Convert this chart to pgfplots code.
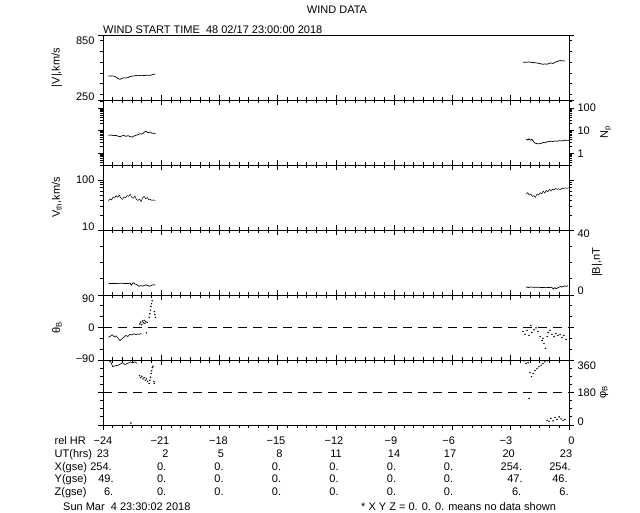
\documentclass[border=0pt]{standalone}
\usepackage{fontspec}
\setmainfont{Liberation Sans}
\usepackage{pgfplots}
\pgfplotsset{compat=1.18}

\newcommand{\f}{\fontsize{11}{13}\selectfont}
\newcommand{\cell}[3]{\node[font=\f, anchor=base, inner sep=0pt] at (#1pt,#2pt) {#3};}
% tick label moved up/down from its tick, as the end labels are in the reference
\newcommand{\lab}[2]{\raisebox{#1}[0pt][0pt]{#2}}

\pgfplotsset{
  panel/.style={
    scale only axis, width=466pt, height=65pt,
    anchor=south west,
    xmin=-24, xmax=0,
    xtick={-24,-21,...,0}, xticklabels={},
    minor x tick num=5,
    xtick pos=both,
    tick align=outside,
    major tick length=5pt, minor tick length=3pt,
    axis line style={line width=0.8pt},
    every tick/.append style={black, line width=0.8pt},
    tick label style={font=\f},
    /pgf/number format/assume math mode=true,
    ylabel style={font=\f, anchor=center},
  },
  data/.style={black, line width=0.7pt, line join=round},
  dots/.style={black, only marks, mark=*, mark size=0.5pt},
  zero/.style={black, line width=0.8pt, dash pattern=on 9pt off 6pt},
}

\begin{document}
\begin{tikzpicture}

% |V|
\begin{axis}[panel, at={(103pt,412pt)}, xtick pos=bottom,
  ymin=250, ymax=850, ytick={250,850}, yticklabels={\lab{-1pt}{250},\lab{-10pt}{850}},
  minor ytick={300,400,...,800},
  ylabel={|V|,km/s}, ylabel style={at={(axis description cs:-0.099,0.5)}}]
\addplot[data] coordinates {(-23.72,472)(-23.59,472)(-23.43,470)(-23.33,462)(-23.23,448)(-23.12,441)(-23.02,450)(-22.92,455)(-22.82,452)(-22.71,458)(-22.61,466)(-22.51,470)(-22.40,472)(-22.30,476)(-22.20,474)(-22.09,477)(-21.99,478)(-21.89,475)(-21.79,478)(-21.68,478)(-21.58,477)(-21.48,482)(-21.37,488)(-21.30,490)};
\addplot[data] coordinates {(-2.37,600)(-2.21,598)(-2.06,601)(-1.91,597)(-1.75,594)(-1.60,590)(-1.45,584)(-1.34,580)(-1.24,583)(-1.13,580)(-1.03,588)(-0.93,592)(-0.82,587)(-0.72,598)(-0.62,605)(-0.51,612)(-0.41,614)(-0.31,610)(-0.21,612)};
\end{axis}

% Np
\begin{axis}[panel, at={(103pt,347pt)},
  ymode=log, ymin=0.3, ymax=230, ytick={1,10,100}, yticklabels={1,10,100},
  minor ytick={0.4,0.5,0.6,0.7,0.8,0.9,2,3,4,5,6,7,8,9,20,30,40,50,60,70,80,90,200},
  yticklabel pos=right, ytick pos=both,
  ylabel={N\textsubscript{p}}, ylabel style={at={(axis description cs:1.079,0.5)}}]
\addplot[data] coordinates {(-23.72,6.3)(-23.59,6.4)(-23.43,6.0)(-23.33,6.2)(-23.23,5.7)(-23.12,5.4)(-23.02,5.9)(-22.92,6.1)(-22.82,5.6)(-22.71,6.0)(-22.61,5.5)(-22.51,5.2)(-22.40,5.8)(-22.30,6.3)(-22.20,6.6)(-22.09,7.4)(-21.99,7.0)(-21.89,8.4)(-21.79,9.6)(-21.68,8.0)(-21.58,8.8)(-21.48,7.6)(-21.37,7.8)(-21.30,7.3)};
\addplot[data] coordinates {(-2.21,4.3)(-2.13,3.8)(-2.06,4.4)(-1.98,3.7)(-1.91,4.2)(-1.83,3.3)(-1.75,2.8)(-1.60,2.6)(-1.45,2.7)(-1.34,3.0)(-1.24,2.9)(-1.13,3.2)(-1.03,3.3)(-0.93,3.4)(-0.82,3.3)(-0.72,3.5)(-0.62,3.4)(-0.51,3.6)(-0.41,3.5)(-0.31,3.6)(-0.21,3.8)(-0.10,3.7)(0,3.8)};
\end{axis}

% Vth
\begin{axis}[panel, at={(103pt,282pt)},
  ymode=log, ymin=10, ymax=200, ytick={10,100}, yticklabels={\lab{-1pt}{10},100},
  minor ytick={20,30,40,50,60,70,80,90,200},
  ylabel={V\textsubscript{th},km/s}, ylabel style={at={(axis description cs:-0.099,0.5)}}]
\addplot[data, line width=0.5pt] coordinates {(-23.72,38)(-23.64,42)(-23.56,40)(-23.48,46)(-23.40,44)(-23.32,49)(-23.24,45)(-23.16,50)(-23.08,43)(-23.00,41)(-22.92,46)(-22.84,44)(-22.76,49)(-22.68,47)(-22.60,52)(-22.52,45)(-22.44,43)(-22.36,48)(-22.28,41)(-22.20,39)(-22.12,42)(-22.04,37)(-21.96,44)(-21.88,47)(-21.80,42)(-21.72,45)(-21.64,40)(-21.56,41)(-21.48,39)(-21.40,40)(-21.30,39)};
\addplot[data, line width=0.5pt] coordinates {(-2.21,52)(-2.13,56)(-2.05,50)(-1.97,53)(-1.89,47)(-1.81,49)(-1.73,45)(-1.65,52)(-1.57,50)(-1.49,56)(-1.41,53)(-1.33,60)(-1.25,55)(-1.17,62)(-1.09,58)(-1.01,65)(-0.93,60)(-0.85,66)(-0.77,63)(-0.69,68)(-0.61,65)(-0.53,67)(-0.45,64)(-0.37,69)(-0.29,67)(-0.21,70)(-0.10,68)(-0.02,71)};
\end{axis}

% |B|
\begin{axis}[panel, at={(103pt,217pt)},
  ymin=0, ymax=40, ytick={0,40}, yticklabels={\lab{0pt}{0},\lab{-8pt}{40}}, minor ytick={10,20,30},
  yticklabel pos=right, ytick pos=both,
  ylabel={|B|,nT}, ylabel style={at={(axis description cs:1.060,0.5)}}]
\addplot[data] coordinates {(-23.72,7.0)(-23.50,7.1)(-23.30,7.0)(-23.10,7.3)(-22.90,7.1)(-22.70,7.0)(-22.60,7.4)(-22.55,6.0)(-22.45,7.6)(-22.35,6.8)(-22.25,6.3)(-22.15,5.4)(-22.05,5.7)(-21.95,5.5)(-21.80,6.2)(-21.70,5.8)(-21.60,5.4)(-21.50,6.0)(-21.40,6.3)(-21.30,6.1)};
\addplot[data] coordinates {(-2.21,5.0)(-2.10,4.6)(-2.00,4.9)(-1.80,4.7)(-1.60,4.8)(-1.40,4.6)(-1.20,4.7)(-1.00,4.6)(-0.90,4.8)(-0.80,3.6)(-0.75,4.5)(-0.65,3.9)(-0.55,4.6)(-0.45,5.2)(-0.35,4.9)(-0.25,5.6)(-0.15,5.3)(-0.05,5.8)};
\end{axis}

% theta B
\begin{axis}[panel, at={(103pt,152pt)},
  ymin=-90, ymax=90, ytick={-90,0,90}, yticklabels={\lab{-2pt}{−90},0,\lab{-8pt}{90}}, minor ytick={-60,-30,30,60},
  ylabel={θ\textsubscript{B}}, ylabel style={at={(axis description cs:-0.099,0.5)}}]
\addplot[zero] coordinates {(-24,0)(0,0)};
\addplot[data, line width=0.6pt] coordinates {(-23.72,-27)(-23.62,-24)(-23.52,-20)(-23.42,-26)(-23.32,-23)(-23.22,-30)(-23.12,-36)(-23.02,-31)(-22.92,-27)(-22.82,-22)(-22.72,-25)(-22.62,-19)(-22.52,-21)(-22.42,-17)(-22.32,-20)(-22.22,-18)(-22.12,-19)(-22.02,-16)};
\addplot[dots] coordinates {(-22.10,10)(-22.05,15)(-22.00,8)(-21.96,18)(-21.92,13)(-21.88,20)(-21.84,12)(-21.80,17)(-21.76,-15)(-21.72,14)(-21.62,28)(-21.59,38)(-21.56,48)(-21.53,58)(-21.50,66)(-21.47,74)(-21.36,44)(-21.33,36)(-21.30,28)};
\addplot[dots] coordinates {(-2.37,-11)(-2.27,-19)(-2.16,-8)(-2.06,-22)(-1.96,6)(-1.91,-14)(-1.80,-6)(-1.70,-1)(-1.60,-11)(-1.49,-25)(-1.39,-36)(-1.34,-30)(-1.29,-44)(-1.21,-58)(-1.13,-25)(-1.08,-14)(-0.98,-8)(-0.88,-19)(-0.77,-25)(-0.67,-17)(-0.57,-22)(-0.46,-19)(-0.36,-28)(-0.26,-22)(-0.15,-33)};
\end{axis}

% phi B
\begin{axis}[panel, at={(103pt,87pt)},
  ymin=0, ymax=360, ytick={0,180,360}, yticklabels={\lab{0pt}{0},180,\lab{-10pt}{360}},
  minor ytick={45,90,135,225,270,315},
  yticklabel pos=right, ytick pos=both,
  ylabel={φ\textsubscript{B}}, ylabel style={at={(axis description cs:1.075,0.5)}}]
\addplot[zero] coordinates {(-24,180)(0,180)};
\addplot[data, line width=0.6pt] coordinates {(-23.70,355)(-23.60,350)(-23.50,323)(-23.35,329)(-23.20,331)(-23.08,340)(-22.97,345)(-22.87,334)(-22.77,340)(-22.66,345)(-22.56,350)(-22.46,345)(-22.35,350)(-22.25,342)};
\addplot[dots] coordinates {(-22.56,11)(-22.12,273)(-22.06,262)(-22.00,270)(-21.94,255)(-21.88,262)(-21.82,248)(-21.76,255)(-21.70,242)(-21.62,230)(-21.58,248)(-21.55,265)(-21.52,285)(-21.49,300)(-21.46,318)(-21.43,326)(-21.38,240)(-21.36,230)};
\addplot[dots] coordinates {(-2.32,356)(-2.21,340)(-2.11,345)(-2.01,290)(-1.93,268)(-1.85,285)(-1.75,301)(-1.65,312)(-1.55,323)(-1.44,331)(-1.34,340)(-1.24,350)(-1.13,356)(-1.03,357)(-2.06,147)(-1.13,26)(-1.03,20)(-0.93,37)(-0.82,23)(-0.72,42)(-0.62,31)(-0.51,45)(-0.41,34)(-0.31,26)(-0.21,31)};
\end{axis}

% titles
\node[font=\f] at (337pt,502pt) {WIND DATA};
\node[font=\f, anchor=base west, inner sep=0pt] at (103pt,478pt) {WIND START TIME\ \ 48 02/17 23:00:00 2018};

% table under the panels
\node[font=\f, anchor=base west, inner sep=0pt] at (54.5pt,68pt) {rel HR};
\node[font=\f, anchor=base west, inner sep=0pt] at (54.5pt,55pt) {UT(hrs)};
\node[font=\f, anchor=base west, inner sep=0pt] at (54.5pt,42pt) {X(gse)};
\node[font=\f, anchor=base west, inner sep=0pt] at (54.5pt,29.5pt) {Y(gse)};
\node[font=\f, anchor=base west, inner sep=0pt] at (54.5pt,17pt) {Z(gse)};

\cell{103}{68}{−24}\cell{160}{68}{−21}\cell{218.5}{68}{−18}\cell{276}{68}{−15}\cell{334}{68}{−12}\cell{391}{68}{−9}\cell{448.6}{68}{−6}\cell{506}{68}{−3}\cell{571.5}{68}{0}
\cell{103}{55}{23}\cell{165.5}{55}{2}\cell{221}{55}{5}\cell{279.5}{55}{8}\cell{336}{55}{11}\cell{394}{55}{14}\cell{450}{55}{17}\cell{508.7}{55}{20}\cell{566}{55}{23}
\cell{101}{42}{254.}\cell{161.6}{42}{0.}\cell{219}{42}{0.}\cell{276.5}{42}{0.}\cell{334}{42}{0.}\cell{391.5}{42}{0.}\cell{448.5}{42}{0.}\cell{511.4}{42}{254.}\cell{560}{42}{254.}
\cell{106}{29.5}{49.}\cell{161.6}{29.5}{0.}\cell{219}{29.5}{0.}\cell{276.5}{29.5}{0.}\cell{334}{29.5}{0.}\cell{391.5}{29.5}{0.}\cell{448.5}{29.5}{0.}\cell{515}{29.5}{47.}\cell{560}{29.5}{46.}
\cell{108.7}{17}{6.}\cell{161.6}{17}{0.}\cell{219}{17}{0.}\cell{276.5}{17}{0.}\cell{334}{17}{0.}\cell{391.5}{17}{0.}\cell{448.5}{17}{0.}\cell{516.6}{17}{6.}\cell{564}{17}{6.}

\node[font=\f, anchor=base west, inner sep=0pt] at (63pt,1.5pt) {Sun Mar\ \ 4 23:30:02 2018};
\node[font=\f, anchor=base west, inner sep=0pt] at (361pt,1.5pt) {* X Y Z = 0. 0. 0. means no data shown};

\pgfresetboundingbox
\path[use as bounding box] (0,0) rectangle (640pt,512pt);
\end{tikzpicture}
\end{document}
